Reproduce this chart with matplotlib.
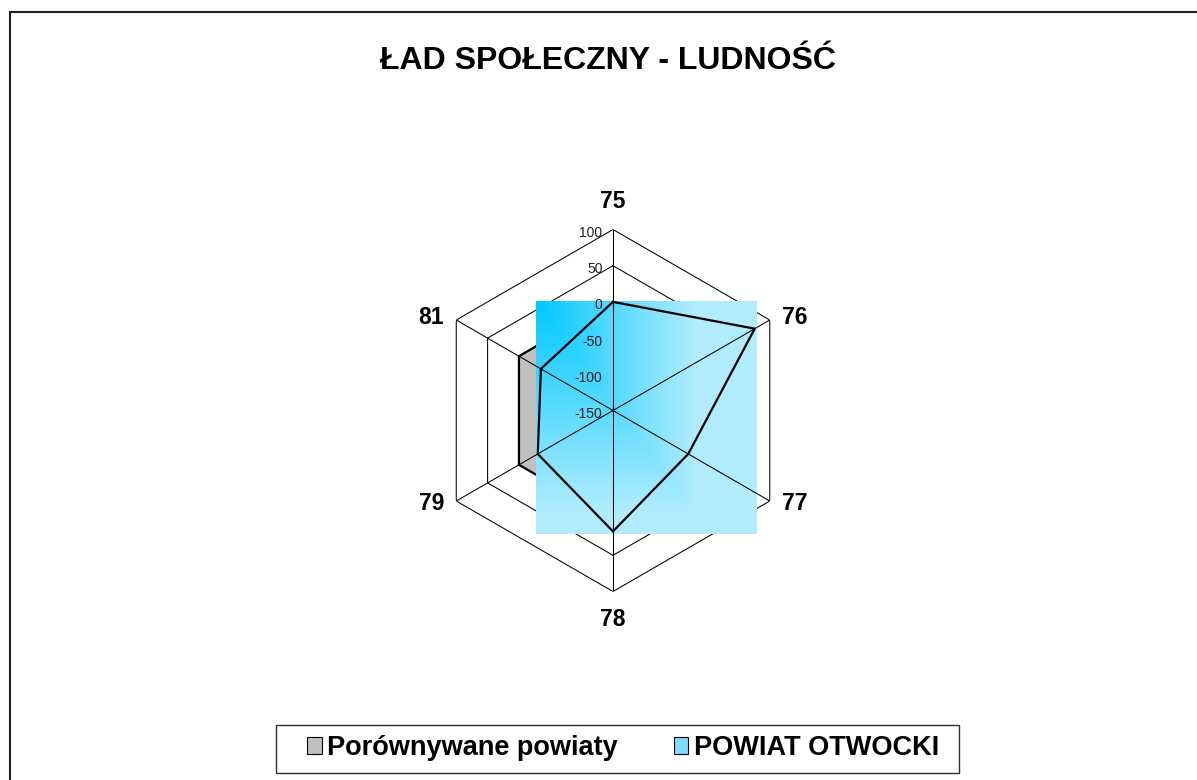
import numpy as np
import matplotlib
matplotlib.use("Agg")
import matplotlib.pyplot as plt
from matplotlib.image import BboxImage
from matplotlib.transforms import Bbox
from matplotlib.patches import Rectangle, Patch

plt.rcParams['font.family'] = ['Liberation Sans', 'DejaVu Sans']

title = "ŁAD SPOŁECZNY - LUDNOŚĆ"
categories = ["75", "76", "77", "78", "79", "81"]
porownywane = [0, 0, 0, 0, 0, 0]
otwocki = [0, 76, -30, 17, -30, -35]
series_names = ["Porównywane powiaty", "POWIAT OTWOCKI"]
r_ticks = [-150, -100, -50, 0, 50, 100]

W, H = 1197, 780
fig = plt.figure(figsize=(W / 100, H / 100), dpi=100)

# ramka wykresu (widoczna tylko z lewej i u gory)
fig.patches.append(Rectangle((9.5 / W, -0.1), 1.2, 1 - 12.5 / H + 0.1,
                             transform=fig.transFigure, fill=False,
                             edgecolor="#202020", lw=1.5))

fig.text(608 / W, 1 - 61 / H, title, ha="center", va="center",
         fontsize=23, fontweight="bold")

cx, cy, R = 613, 410.5, 181
ax = fig.add_axes([(cx - R) / W, (H - cy - R) / H, 2 * R / W, 2 * R / H],
                  projection="polar")
ax.set_theta_zero_location("N")
ax.set_theta_direction(-1)
ax.set_ylim(r_ticks[0], r_ticks[-1])
ax.grid(False)
ax.spines["polar"].set_visible(False)
ax.set_xticks([])
ax.set_yticks([])
ax.patch.set_alpha(0)

n = len(categories)
angles = np.arange(n) * 2 * np.pi / n
closed = np.append(angles, angles[0])

# siatka w ksztalcie szesciokatow
for v in r_ticks[1:]:
    ax.plot(closed, [v] * (n + 1), color="black", lw=0.75, zorder=1)

# szary wielokat
vals_g = np.append(porownywane, porownywane[0])
ax.fill(closed, vals_g, color="#C0C0C0", zorder=2)
ax.plot(closed, vals_g, color="black", lw=1.6, zorder=2.1)

# niebieskie wypelnienie gradientem na prostokacie obejmujacym wielokat
vals_b = np.append(otwocki, otwocki[0])


def blue_bbox(renderer):
    pts = ax.transData.transform(np.column_stack([closed, vals_b]))
    return Bbox([[pts[:, 0].min() - 2, pts[:, 1].min() - 3],
                 [pts[:, 0].max() + 2, pts[:, 1].max()]])


uu, vv = np.meshgrid(np.linspace(0, 1, 200), np.linspace(0, 1, 200))
t = np.clip(np.maximum(uu / 0.72, vv / 0.9), 0, 1)
c0 = np.array([0, 200, 255]) / 255
c1 = np.array([176, 236, 254]) / 255
grad = c0[None, None, :] * (1 - t[..., None]) + c1[None, None, :] * t[..., None]

img = BboxImage(blue_bbox, interpolation="bilinear")
img.set_data(grad)
img.set_zorder(3)
ax.add_artist(img)
img.set_clip_on(False)

# osie kategorii
for a in angles:
    ax.plot([a, a], [r_ticks[0], r_ticks[-1]], color="black", lw=0.75, zorder=4)

ax.plot(closed, vals_b, color="black", lw=1.6, zorder=5)

# etykiety osi wartosci
for v in r_ticks:
    ax.annotate(str(v), xy=(0, v), xytext=(-7.5, -2.5), textcoords="offset points",
                ha="right", va="center", fontsize=10, color="#202020",
                zorder=6, annotation_clip=False)

# etykiety kategorii, tuz za wierzcholkami szesciokata
for a, c in zip(angles, categories):
    s, co = np.sin(a), np.cos(a)
    if abs(s) < 0.1:
        off = (0, 20 * co)
    else:
        off = (18 * np.sign(s), 3 * co)
    ax.annotate(c, xy=(a, r_ticks[-1]), xytext=off, textcoords="offset points",
                ha="center", va="center", fontsize=16.5, fontweight="bold",
                annotation_clip=False)

# ramka legendy
fig.patches.append(Rectangle((275.5 / W, 1 - 772.5 / H), 683 / W, 48 / H,
                             transform=fig.transFigure, fill=False,
                             edgecolor="#303030", lw=1.0))

handles = [Patch(facecolor="#C0C0C0", edgecolor="black", lw=0.8),
           Patch(facecolor="#7FDCFF", edgecolor="black", lw=0.8)]
leg = fig.legend(handles, series_names, loc="center",
                 bbox_to_anchor=(623 / W, 1 - 748 / H), ncol=2,
                 prop={"size": 19.5, "weight": "bold"}, frameon=False,
                 handlelength=0.55, handleheight=0.55, handletextpad=0.2,
                 columnspacing=2.05, borderpad=0.3, borderaxespad=0)

fig.savefig("out.png", dpi=100)
